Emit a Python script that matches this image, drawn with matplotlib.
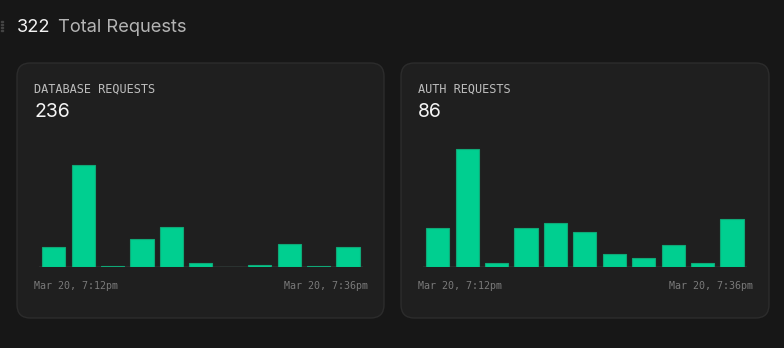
import matplotlib.pyplot as plt
from matplotlib.patches import FancyBboxPatch

# requests per 2-minute bucket, Mar 20 7:12pm .. 7:36pm
db_counts = [20, 100, 1, 27, 39, 4, 0, 2, 22, 1, 20]
auth_counts = [9, 27, 1, 9, 10, 8, 3, 2, 5, 1, 11]
panel_titles = ["DATABASE REQUESTS", "AUTH REQUESTS"]
start_label = "Mar 20, 7:12pm"
end_label = "Mar 20, 7:36pm"

W, H = 784, 348
BG = "#171717"
CARD = "#1f1f1f"
BORDER = "#2c2c2c"
GREEN = "#00cf90"
EDGE = "#10a877"

fig = plt.figure(figsize=(W / 100, H / 100), dpi=100)
fig.patch.set_facecolor(BG)


def fx(px):
    return px / W


def fy(py):
    return 1 - py / H


# drag handle
for yy in (21, 24, 27, 30):
    fig.patches.append(plt.Rectangle((fx(1), fy(yy + 1)), fx(2), 1.5 / H,
                                     transform=fig.transFigure, color="#444444"))

total = sum(db_counts) + sum(auth_counts)
fig.text(fx(17), fy(31.5), str(total), color="#f2f2f2", fontsize=13.2,
         family="Inter", va="baseline", ha="left")
fig.text(fx(58), fy(31.5), "Total Requests", color="#b4b4b4", fontsize=13.2,
         family="Inter", va="baseline", ha="left")

cards = [(17, 384), (401, 769)]
plot_x = [(39, 362.7), (423, 746.7)]
ylims = [124, 29.1]

for (x0, x1), (px0, px1), title, counts, ytop in zip(
        cards, plot_x, panel_titles, [db_counts, auth_counts], ylims):
    box = FancyBboxPatch((fx(x0), fy(318)), fx(x1 - x0), (318 - 63) / H,
                         boxstyle="round,pad=0,rounding_size=0.017",
                         transform=fig.transFigure, facecolor=CARD,
                         edgecolor=BORDER, linewidth=1.0,
                         mutation_aspect=W / H, zorder=0.5)
    fig.patches.append(box)

    fig.text(fx(x0 + 17), fy(92.3), title, color="#bdbdbd", fontsize=8.6,
             family="DejaVu Sans Mono", va="baseline", ha="left")
    fig.text(fx(x0 + 17), fy(116.7), str(sum(counts)), color="#f5f5f5",
             fontsize=14, family="Inter", va="baseline", ha="left")

    ax = fig.add_axes([fx(px0), fy(267), fx(px1 - px0), (267 - 140) / H])
    ax.set_zorder(2)
    ax.set_facecolor("none")
    xs = range(len(counts))
    ax.bar(xs, counts, width=0.79, color=GREEN, edgecolor=EDGE, linewidth=0.8,
           zorder=2)
    ax.axhline(0, color="#2e2e2e", linewidth=2, zorder=1)
    ax.set_xlim(-0.5, len(counts) - 0.5)
    ax.set_ylim(0, ytop)
    ax.axis("off")

    fig.text(fx(x0 + 17), fy(289.3), start_label, color="#7a7a7a", fontsize=7.2,
             family="DejaVu Sans Mono", va="baseline", ha="left")
    fig.text(fx(x1 - 16), fy(289.3), end_label, color="#7a7a7a", fontsize=7.2,
             family="DejaVu Sans Mono", va="baseline", ha="right")

fig.savefig("out.png", dpi=100, facecolor=BG)
